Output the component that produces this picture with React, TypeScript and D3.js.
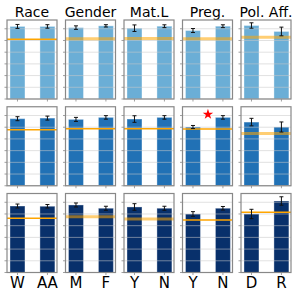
import React from "react";
import * as d3 from "d3";

const categories = ["Race", "Gender", "Mat.L", "Preg.", "Pol. Aff."];
const groupLabels = [["W", "AA"], ["M", "F"], ["Y", "N"], ["Y", "N"], ["D", "R"]];

const row1Values = [[6.2, 6.2], [6.1, 6.25], [6.05, 6.22], [5.85, 6.22], [6.28, 5.77]];
const row1Err = [[0.17, 0.15], [0.15, 0.1], [0.28, 0.12], [0.17, 0.12], [0.23, 0.37]];
const row1Base = [5.11, 5.14, 5.17, 5.14, 5.28];

const row2Values = [[5.73, 5.78], [5.67, 5.84], [5.7, 5.84], [5.02, 5.84], [5.44, 5.02]];
const row2Err = [[0.17, 0.17], [0.17, 0.15], [0.28, 0.15], [0.13, 0.15], [0.32, 0.43]];
const row2Base = [4.79, 4.87, 4.87, 4.84, 4.47];

const row3Values = [[5.68, 5.66], [5.77, 5.49], [5.6, 5.49], [5.0, 5.49], [5.0, 6.11]];
const row3Err = [[0.17, 0.15], [0.17, 0.17], [0.28, 0.17], [0.2, 0.15], [0.4, 0.36]];
const row3Base = [4.63, 4.77, 4.57, 4.49, 5.15];

// star marks a significant difference (row, column, y value)
const stars = [{ row: 1, col: 3, value: 6.1 }];

const yTicks = [0, 1, 2, 3, 4, 5, 6];

const rows = [
  { values: row1Values, err: row1Err, base: row1Base, color: "#6baed6", soft: [false, true, true, true, true] },
  { values: row2Values, err: row2Err, base: row2Base, color: "#2171b5", soft: [false, false, false, false, true] },
  { values: row3Values, err: row3Err, base: row3Base, color: "#08306b", soft: [false, true, true, false, false] },
];

const W = 297, H = 297;
const colStart = 7, colStep = 58.5, panelW = 50;
const rowStart = 20, rowStep = 86.75, panelH = 79;
const font = "DejaVu Sans, sans-serif";

const x = d3.scaleLinear().domain([-0.35, 1.32]).range([0, panelW]);
const y = d3.scaleLinear().domain([0, 6.75]).range([panelH, 0]);
const barW = x(0.5) - x(0);
const starPath = d3.symbol(d3.symbolStar, 34)() as string;

export default function App() {
  return (
    <svg width={W} height={H} style={{ position: "absolute", left: 0, top: 0, background: "#fff" }}>
      {categories.map((c, ci) => (
        <text key={c} x={colStart + ci * colStep + panelW / 2} y={16.7}
          textAnchor="middle" fontFamily={font} fontSize={14} fill="#000">{c}</text>
      ))}
      {rows.map((r, ri) =>
        categories.map((c, ci) => {
          const tx = colStart + ci * colStep;
          const ty = rowStart + ri * rowStep;
          return (
            <g key={`${ri}-${ci}`} transform={`translate(${tx},${ty})`}>
              {r.values[ci].map((v, i) => (
                <rect key={i} x={x(i) - barW / 2} y={y(v)} width={barW} height={y(0) - y(v)}
                  fill={r.color} stroke="#fff" strokeOpacity={0.35} strokeWidth={1} />
              ))}
              {yTicks.map((t) => (
                <g key={t}>
                  <line x1={0} x2={panelW} y1={y(t)} y2={y(t)} stroke="#c8c8c8" strokeOpacity={0.55} strokeWidth={1} />
                  <line x1={-2.5} x2={0} y1={y(t)} y2={y(t)} stroke="#888" strokeWidth={0.8} />
                </g>
              ))}
              {r.values[ci].map((v, i) => (
                <line key={"xt" + i} x1={x(i)} x2={x(i)} y1={panelH} y2={panelH + 2.5} stroke="#888" strokeWidth={0.8} />
              ))}
              {r.soft[ci] ? (
                <line x1={0} x2={panelW} y1={y(r.base[ci])} y2={y(r.base[ci])} stroke="#ffa500" strokeOpacity={0.55} strokeWidth={3} />
              ) : (
                <line x1={0} x2={panelW} y1={y(r.base[ci])} y2={y(r.base[ci])} stroke="#ffa500" strokeWidth={1.5} />
              )}
              {r.values[ci].map((v, i) => {
                const e = r.err[ci][i];
                return (
                  <g key={"e" + i} stroke="#111" strokeWidth={1}>
                    <line x1={x(i)} x2={x(i)} y1={y(v - e)} y2={y(v + e)} />
                    <line x1={x(i) - 2} x2={x(i) + 2} y1={y(v - e)} y2={y(v - e)} />
                    <line x1={x(i) - 2} x2={x(i) + 2} y1={y(v + e)} y2={y(v + e)} />
                  </g>
                );
              })}
              {stars.filter((s) => s.row === ri && s.col === ci).map((s, k) => (
                <path key={"s" + k} d={starPath} transform={`translate(${x(0.5)},${y(s.value)})`} fill="#ff0000" />
              ))}
              <rect x={0} y={0} width={panelW} height={panelH} fill="none" stroke="#888" strokeWidth={1.2} />
              {ri === rows.length - 1 &&
                groupLabels[ci].map((g, i) => (
                  <text key={"l" + i} x={x(i)} y={panelH + 15.5} textAnchor="middle"
                    fontFamily={font} fontSize={15} fill="#000">{g}</text>
                ))}
            </g>
          );
        })
      )}
    </svg>
  );
}
